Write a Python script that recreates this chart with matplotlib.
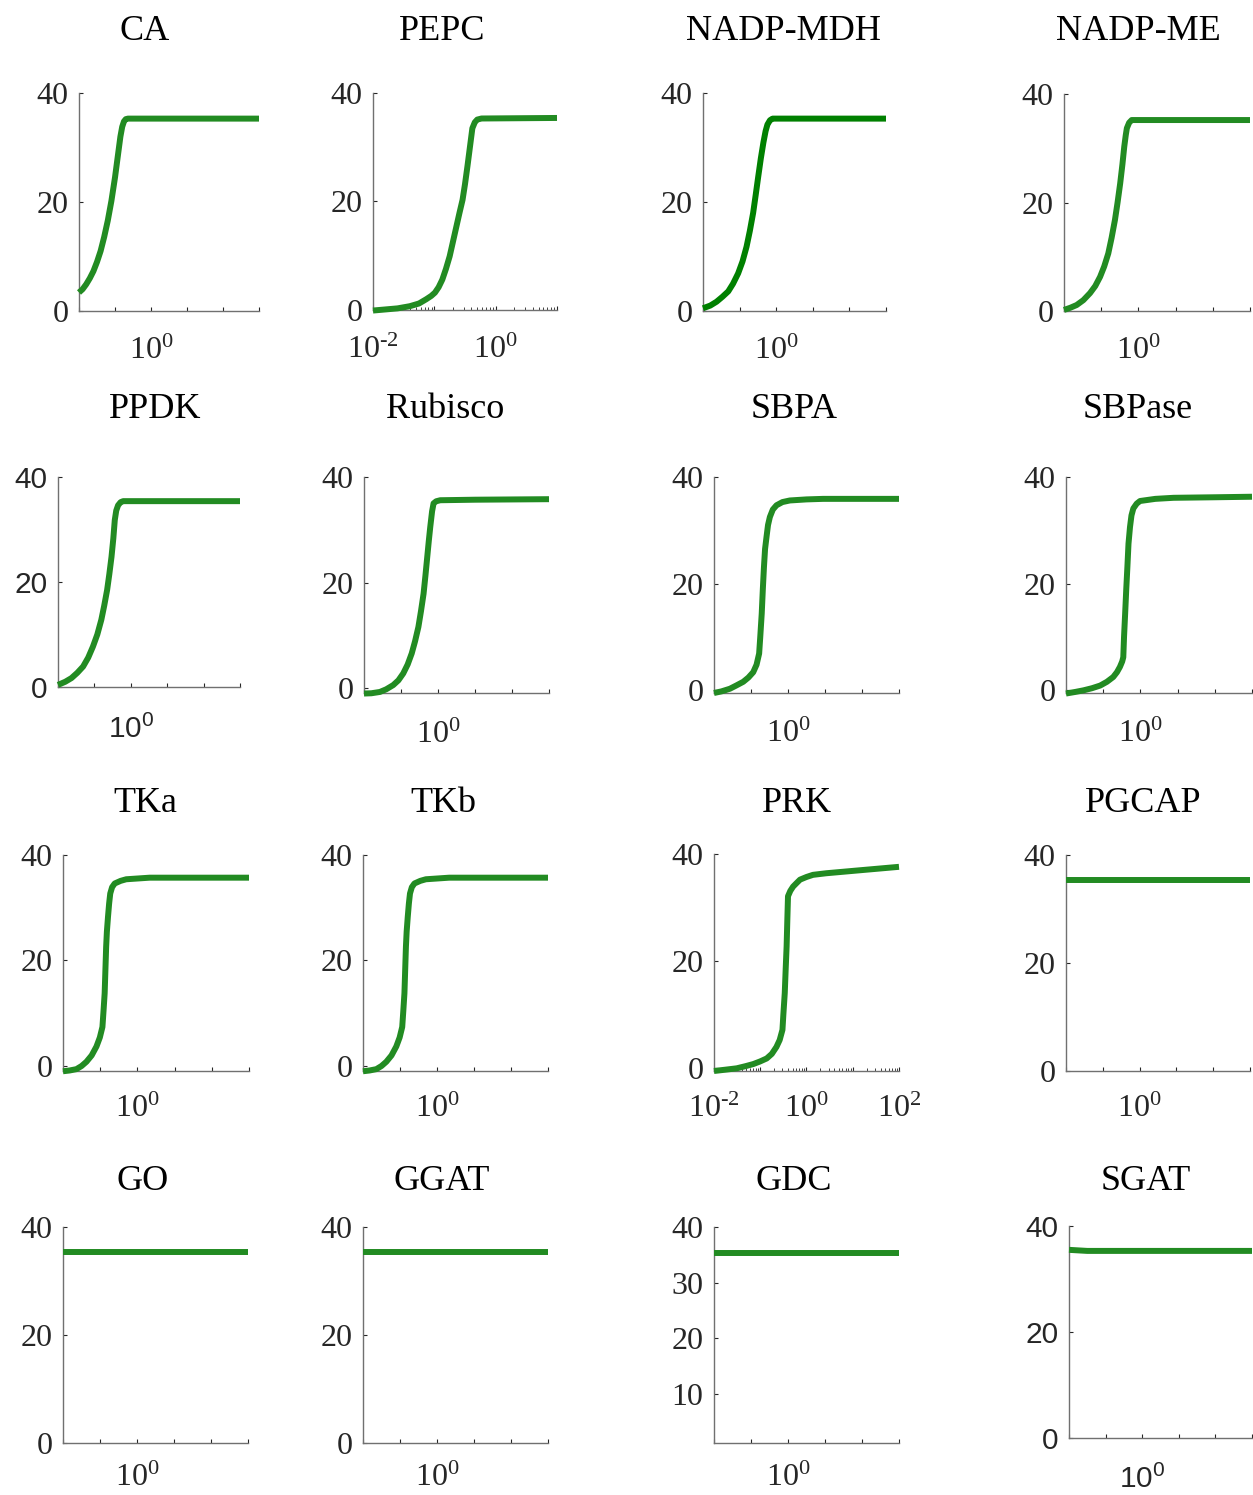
import numpy as np
import matplotlib
matplotlib.use("Agg")
import matplotlib.pyplot as plt
from matplotlib.ticker import FixedLocator, LogLocator, NullFormatter, NullLocator

plt.rcParams['mathtext.fontset'] = 'custom'
plt.rcParams['mathtext.rm'] = 'Liberation Serif'
plt.rcParams['mathtext.sf'] = 'Liberation Sans'

W, H = 1253, 1495

# ---------------- data (x given as log10 exponents) ----------------
titles = ["CA", "PEPC", "NADP-MDH", "NADP-ME",
          "PPDK", "Rubisco", "SBPA", "SBPase",
          "TKa", "TKb", "PRK", "PGCAP",
          "GO", "GGAT", "GDC", "SGAT"]

ca_lx = [-2.0, -1.9, -1.8, -1.7, -1.6, -1.5, -1.4, -1.3, -1.2, -1.1, -1.0, -0.92, -0.85, -0.8, -0.75, -0.7, -0.64, 3.0]
ca_y = [3.4, 4.0, 4.9, 6.0, 7.3, 9.0, 11.0, 13.6, 16.6, 20.2, 24.5, 28.5, 32.0, 33.8, 34.8, 35.2, 35.3, 35.3]

pepc_lx = [-2.0, -1.8, -1.6, -1.4, -1.25, -1.13, -1.05, -0.99, -0.93, -0.87, -0.81, -0.75, -0.7, -0.64,
           -0.59, -0.54, -0.5, -0.46, -0.42, -0.38, -0.34, -0.3, -0.23, 1.0]
pepc_y = [-0.1, 0.1, 0.3, 0.7, 1.2, 2.0, 2.6, 3.2, 4.2, 5.6, 7.6, 9.9, 12.4, 15.4,
          17.9, 20.3, 23.2, 26.5, 30.0, 33.5, 34.6, 35.1, 35.3, 35.4]

mdh_lx = [-2.0, -1.8, -1.63, -1.47, -1.31, -1.18, -1.04, -0.92, -0.81, -0.72, -0.63, -0.56, -0.49, -0.42,
          -0.35, -0.29, -0.24, -0.17, -0.10, 3.0]
mdh_y = [0.5, 1.0, 1.7, 2.6, 3.6, 5.0, 6.9, 9.1, 11.8, 14.7, 18.0, 21.3, 24.7, 28.0,
         30.9, 33.0, 34.2, 35.0, 35.3, 35.3]

me_lx = [-2.0, -1.83, -1.66, -1.48, -1.30, -1.16, -1.03, -0.92, -0.81, -0.72, -0.63, -0.56, -0.49, -0.43,
         -0.38, -0.34, -0.31, -0.25, -0.18, 3.0]
me_y = [0.2, 0.6, 1.1, 2.0, 3.3, 4.6, 6.3, 8.2, 10.6, 13.5, 16.8, 20.0, 23.5, 27.0,
        30.3, 32.4, 33.7, 34.7, 35.2, 35.2]

ppdk_lx = [-2.0, -1.8, -1.63, -1.47, -1.31, -1.17, -1.04, -0.92, -0.81, -0.73, -0.65, -0.59, -0.53, -0.48,
           -0.44, -0.40, -0.35, -0.28, -0.21, 3.0]
ppdk_y = [0.4, 1.0, 1.7, 2.7, 3.9, 5.6, 7.7, 10.0, 12.8, 15.5, 18.5, 21.5, 24.8, 28.3,
          31.8, 33.6, 34.6, 35.2, 35.4, 35.4]

rub_lx = [-2.0, -1.8, -1.57, -1.4, -1.21, -1.07, -0.94, -0.82, -0.71, -0.62, -0.53, -0.46, -0.39, -0.34,
          -0.29, -0.25, -0.21, -0.16, -0.12, -0.05, 0.06, 1.0, 3.0]
rub_y = [-1.0, -0.95, -0.7, -0.2, 0.6, 1.5, 2.8, 4.5, 6.6, 8.9, 11.6, 14.6, 17.9, 21.3,
         24.9, 27.8, 30.5, 33.5, 35.0, 35.4, 35.6, 35.7, 35.8]

sbpa_lx = [-2.0, -1.8, -1.57, -1.4, -1.21, -1.07, -0.94, -0.85, -0.78, -0.75, -0.71, -0.68, -0.65, -0.62,
           -0.58, -0.54, -0.49, -0.41, -0.31, -0.15, 0.05, 0.5, 0.95, 3.0]
sbpa_y = [-0.5, -0.2, 0.3, 0.9, 1.6, 2.4, 3.4, 4.8, 6.9, 10.0, 14.4, 19.0, 23.1, 26.5,
          28.8, 31.0, 32.5, 33.9, 34.7, 35.3, 35.6, 35.8, 35.9, 35.9]

sbpase_lx = [-2.0, -1.75, -1.53, -1.3, -1.08, -0.9, -0.73, -0.63, -0.55, -0.49, -0.46, -0.44, -0.41, -0.38,
             -0.35, -0.32, -0.28, -0.24, -0.19, -0.1, -0.01, 0.4, 0.89, 2.0, 3.0]
sbpase_y = [-0.6, -0.3, 0.0, 0.4, 0.9, 1.6, 2.5, 3.4, 4.4, 5.4, 6.2, 10.0, 14.4, 19.0,
            23.1, 27.5, 30.6, 32.8, 34.1, 35.0, 35.5, 35.9, 36.1, 36.2, 36.3]

tka_lx = [-2.0, -1.82, -1.64, -1.5, -1.37, -1.23, -1.10, -1.01, -0.94, -0.91, -0.88, -0.86, -0.84, -0.82,
          -0.79, -0.76, -0.73, -0.68, -0.61, -0.45, -0.30, 0.33, 3.0]
tka_y = [-1.0, -0.85, -0.6, 0.0, 0.8, 2.0, 3.7, 5.4, 7.4, 10.5, 13.8, 18.2, 22.6, 25.5,
         28.3, 30.8, 32.7, 33.9, 34.6, 35.1, 35.4, 35.7, 35.7]

tkb_lx = [-2.0, -1.82, -1.64, -1.5, -1.37, -1.23, -1.10, -1.01, -0.94, -0.91, -0.88, -0.86, -0.84, -0.82,
          -0.79, -0.76, -0.73, -0.68, -0.61, -0.45, -0.30, 0.33, 3.0]
tkb_y = [-1.0, -0.85, -0.6, 0.0, 0.8, 2.0, 3.7, 5.4, 7.4, 10.5, 13.8, 18.2, 22.6, 25.5,
         28.3, 30.8, 32.7, 33.9, 34.6, 35.1, 35.4, 35.7, 35.7]

prk_lx = [-2.0, -1.75, -1.51, -1.32, -1.15, -1.0, -0.86, -0.75, -0.65, -0.58, -0.52, -0.50, -0.47, -0.45,
          -0.43, -0.415, -0.40, -0.35, -0.29, -0.21, -0.14, 0.0, 0.14, 0.43, 1.08, 2.0]
prk_y = [-0.6, -0.35, -0.1, 0.3, 0.7, 1.2, 1.75, 2.6, 3.9, 5.2, 7.1, 10.0, 14.0, 18.5,
         22.7, 27.5, 32.1, 33.1, 33.9, 34.6, 35.2, 35.7, 36.1, 36.4, 36.9, 37.6]

pgcap_lx = [-2.0, 3.0]
pgcap_y = [35.4, 35.4]
go_lx = [-2.0, 3.0]
go_y = [35.4, 35.4]
ggat_lx = [-2.0, 3.0]
ggat_y = [35.4, 35.4]
gdc_lx = [-2.0, 3.0]
gdc_y = [35.4, 35.4]
sgat_lx = [-2.0, -1.5, 3.0]
sgat_y = [35.5, 35.3, 35.3]

series_lx = [ca_lx, pepc_lx, mdh_lx, me_lx, ppdk_lx, rub_lx, sbpa_lx, sbpase_lx,
             tka_lx, tkb_lx, prk_lx, pgcap_lx, go_lx, ggat_lx, gdc_lx, sgat_lx]
series_y = [ca_y, pepc_y, mdh_y, me_y, ppdk_y, rub_y, sbpa_y, sbpase_y,
            tka_y, tkb_y, prk_y, pgcap_y, go_y, ggat_y, gdc_y, sgat_y]

# x decade ranges, labelled decades, y tick lists, y limits
xranges = [(-2, 3), (-2, 1), (-2, 3), (-2, 3),
           (-2, 3), (-2, 3), (-2, 3), (-2, 3),
           (-2, 3), (-2, 3), (-2, 2), (-2, 3),
           (-2, 3), (-2, 3), (-2, 3), (-2, 3)]
xlabeled = [[0], [-2, 0], [0], [0],
            [0], [0], [0], [0],
            [0], [0], [-2, 0, 2], [0],
            [0], [0], [0], [0]]
yticks_std = [0, 20, 40]
yticks_gdc = [10, 20, 30, 40]
ylims = [(0, 40), (0, 40), (0, 40), (0, 40),
         (0, 40), (-0.9, 40), (-0.5, 40), (-0.5, 40),
         (-0.95, 40), (-0.95, 40), (-0.6, 40), (0, 40),
         (0, 40), (0, 40), (1.1, 40), (0, 40)]

# ---------------- layout (pixel boxes: left, right, top, bottom) ----------------
boxes = [(79, 259, 93, 311), (373, 557, 93, 310), (703, 886, 93, 311), (1064, 1250, 94, 311),
         (58, 240, 477, 687), (364, 549, 477, 693), (714, 899, 477, 693), (1066, 1252, 477, 693),
         (63, 249, 855, 1071), (363, 548, 855, 1071), (714, 899, 854, 1071), (1066, 1250, 855, 1071),
         (63, 248, 1227, 1443), (363, 548, 1227, 1443), (714, 899, 1227, 1443), (1069, 1252, 1226, 1438)]
title_pos = [(145, 40), (442, 40), (783, 40), (1138, 40),
             (155, 418), (445, 418), (794, 418), (1138, 418),
             (145, 812), (443, 812), (797, 812), (1143, 812),
             (143, 1190), (442, 1190), (794, 1190), (1146, 1190)]
xpads = [18.5, 18.5, 18.5, 18.5,
         20, 20, 19, 19.5,
         17, 17, 17, 17,
         15, 15, 15, 19]
sans_panels = {4, 15}
minor_panels = {1, 10}

line_color = '#228B22'
mdh_color = '#008000'
txt_color = '#262626'
serif = 'Liberation Serif'
sans = 'Liberation Sans'

fig = plt.figure(figsize=(W / 100, H / 100), dpi=100)

for i in range(16):
    l, r, t, b = boxes[i]
    ax = fig.add_axes([l / W, 1 - b / H, (r - l) / W, (b - t) / H])
    x = np.power(10.0, np.array(series_lx[i]))
    y = np.array(series_y[i])
    col = mdh_color if i == 2 else line_color
    ax.plot(x, y, color=col, lw=4.3, solid_capstyle='butt', solid_joinstyle='round', clip_on=False, zorder=3)
    ax.set_xscale('log')
    x0, x1 = xranges[i]
    ax.set_xlim(10.0 ** x0, 10.0 ** x1)
    ax.set_ylim(*ylims[i])

    decs = list(range(x0, x1 + 1))
    ax.xaxis.set_major_locator(FixedLocator([10.0 ** d for d in decs]))
    is_sans = i in sans_panels
    mfont = 'sf' if is_sans else 'rm'
    labels = []
    for d in decs:
        if d in xlabeled[i]:
            if d < 0:
                labels.append(r'$\math%s{10^{\text{-}%d}}$' % (mfont, -d))
            else:
                labels.append(r'$\math%s{10^{%d}}$' % (mfont, d))
        else:
            labels.append('')
    ax.set_xticklabels(labels)
    if i in minor_panels:
        ax.xaxis.set_minor_locator(LogLocator(base=10, subs=np.arange(2, 10)))
        ax.xaxis.set_minor_formatter(NullFormatter())
    else:
        ax.xaxis.set_minor_locator(NullLocator())

    yt = yticks_gdc if i == 14 else yticks_std
    ax.set_yticks(yt)
    ax.set_yticklabels([str(v) for v in yt])

    fam = sans if is_sans else serif
    fs = 21.5 if is_sans else 23
    for lab in ax.get_yticklabels() + ax.get_xticklabels():
        lab.set_fontfamily(fam)
        lab.set_fontsize(fs)
        lab.set_color(txt_color)

    ax.tick_params(axis='both', which='major', direction='in', length=3, width=0.8, color=txt_color)
    ax.tick_params(axis='x', which='minor', direction='in', length=2, width=0.6, color=txt_color)
    ax.tick_params(axis='y', pad=7.5)
    ax.tick_params(axis='x', pad=xpads[i])

    for s in ['top', 'right']:
        ax.spines[s].set_visible(False)
    ax.spines['left'].set_color('#707070')
    ax.spines['bottom'].set_color('#707070')
    ax.spines['left'].set_linewidth(1.0)
    ax.spines['bottom'].set_linewidth(1.0)
    ax.set_facecolor('none')

    tx, ty = title_pos[i]
    fig.text(tx / W, 1 - ty / H, titles[i], ha='center', va='baseline',
             fontfamily=serif, fontsize=26, color='black')

fig.savefig('out.png', dpi=100)
